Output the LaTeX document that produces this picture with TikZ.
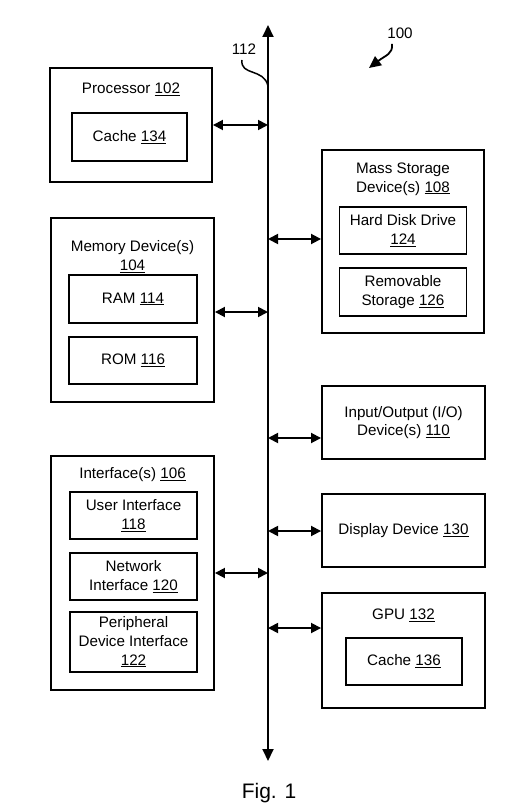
\documentclass[tikz,border=0pt]{standalone}
\usepackage{fontspec}
\setmainfont{Liberation Sans}
\usetikzlibrary{arrows.meta}
\newcommand\refn[1]{\underline{#1}}
\tikzset{
  box/.style={draw=black, line width=1.9pt, inner sep=0pt, fill=white},
  lbl/.style={align=center, inner sep=0pt, font=\fontsize{15.2}{18.6}\selectfont},
  link/.style={line width=1.8pt, {Triangle[length=10pt,width=10pt]}-{Triangle[length=10pt,width=10pt]}},
}
\begin{document}
\begin{tikzpicture}[x=1pt,y=-1pt]
\useasboundingbox (0,0) rectangle (531,810);
% bus
\coordinate (bustop) at (268,25);
\coordinate (busbot) at (268,761);
\draw[line width=1.9pt, {Triangle[length=12pt,width=11pt]}-{Triangle[length=12pt,width=11pt]}] (bustop) -- (busbot);
% processor
\node[box, minimum width=162pt, minimum height=114pt] (proc) at (131,125) {};
\node[lbl] (proct) at (131,89) {Processor \refn{102}};
\node[box, minimum width=115pt, minimum height=48pt] (c134) at (129.5,137) {};
\node[lbl] (c134t) at (c134) {Cache \refn{134}};
% mass storage
\node[box, minimum width=162pt, minimum height=183pt] (mass) at (403,241.5) {};
\node[lbl] (masst) at (403,179) {Mass Storage\\Device(s) \refn{108}};
\node[box, minimum width=127pt, minimum height=47pt] (hdd) at (403,230.5) {};
\node[lbl] (hddt) at (hdd) {Hard Disk Drive\\\refn{124}};
\node[box, minimum width=127pt, minimum height=48pt] (rem) at (403,292) {};
\node[lbl] (remt) at (rem) {Removable\\Storage \refn{126}};
% memory
\node[box, minimum width=163pt, minimum height=184pt] (mem) at (132.5,310) {};
\node[lbl] (memt) at (132.5,256.5) {Memory Device(s)\\\refn{104}};
\node[box, minimum width=128pt, minimum height=48pt] (ram) at (133,299) {};
\node[lbl] (ramt) at (ram) {RAM \refn{114}};
\node[box, minimum width=128pt, minimum height=47pt] (rom) at (133,360.5) {};
\node[lbl] (romt) at (rom) {ROM \refn{116}};
% I/O
\node[box, minimum width=163pt, minimum height=73pt] (io) at (403.5,422.5) {};
\node[lbl] (iot) at (io) {Input/Output (I/O)\\Device(s) \refn{110}};
% interfaces
\node[box, minimum width=163pt, minimum height=234pt] (intf) at (132.5,573) {};
\node[lbl] (intft) at (132.5,475) {Interface(s) \refn{106}};
\node[box, minimum width=127pt, minimum height=47pt] (ui) at (133.5,515.5) {};
\node[lbl] (uit) at (ui) {User Interface\\\refn{118}};
\node[box, minimum width=127pt, minimum height=47pt] (net) at (133.5,576.5) {};
\node[lbl] (nett) at (net) {Network\\Interface \refn{120}};
\node[box, minimum width=127pt, minimum height=60pt] (per) at (133.5,642) {};
\node[lbl] (pert) at (per) {Peripheral\\Device Interface\\\refn{122}};
% display
\node[box, minimum width=163pt, minimum height=73pt] (disp) at (403.5,530.5) {};
\node[lbl] (dispt) at (disp) {Display Device \refn{130}};
% GPU
\node[box, minimum width=163pt, minimum height=115pt] (gpu) at (403.5,650.5) {};
\node[lbl] (gput) at (403.5,615) {GPU \refn{132}};
\node[box, minimum width=116pt, minimum height=47pt] (c136) at (404,661.5) {};
\node[lbl] (c136t) at (c136) {Cache \refn{136}};
% links
\draw[link] (proc.east) -- (proc.east -| bustop);
\draw[link] ([yshift=2.5pt]mass.west -| bustop) -- ([yshift=2.5pt]mass.west);
\draw[link] ([yshift=-2pt]mem.east) -- ([yshift=-2pt]mem.east -| bustop);
\draw[link] ([yshift=-15.5pt]io.west -| bustop) -- ([yshift=-15.5pt]io.west);
\draw[link] (intf.east) -- (intf.east -| bustop);
\draw[link] ([yshift=-0.5pt]disp.west -| bustop) -- ([yshift=-0.5pt]disp.west);
\draw[link] ([yshift=22.5pt]gpu.west -| bustop) -- ([yshift=22.5pt]gpu.west);
% reference labels
\node[lbl] (l112) at (244,49) {112};
\coordinate (c112a) at (242,60);
\coordinate (c112b) at (268,86);
\draw[line width=1.5pt] (c112a) .. controls (240,76) and (264,68) .. (c112b);
\node[lbl] (l100) at (400,33) {100};
\coordinate (c100a) at (392,44);
\coordinate (c100b) at (369,68);
\draw[line width=1.8pt, -{Triangle[length=12pt,width=11pt]}] (c100a) .. controls (393,54) and (386,55) .. (c100b);
% caption
\node[inner sep=0pt, font=\fontsize{21}{25}\selectfont] (fig) at (269,793) {Fig. 1};
\end{tikzpicture}
\end{document}
